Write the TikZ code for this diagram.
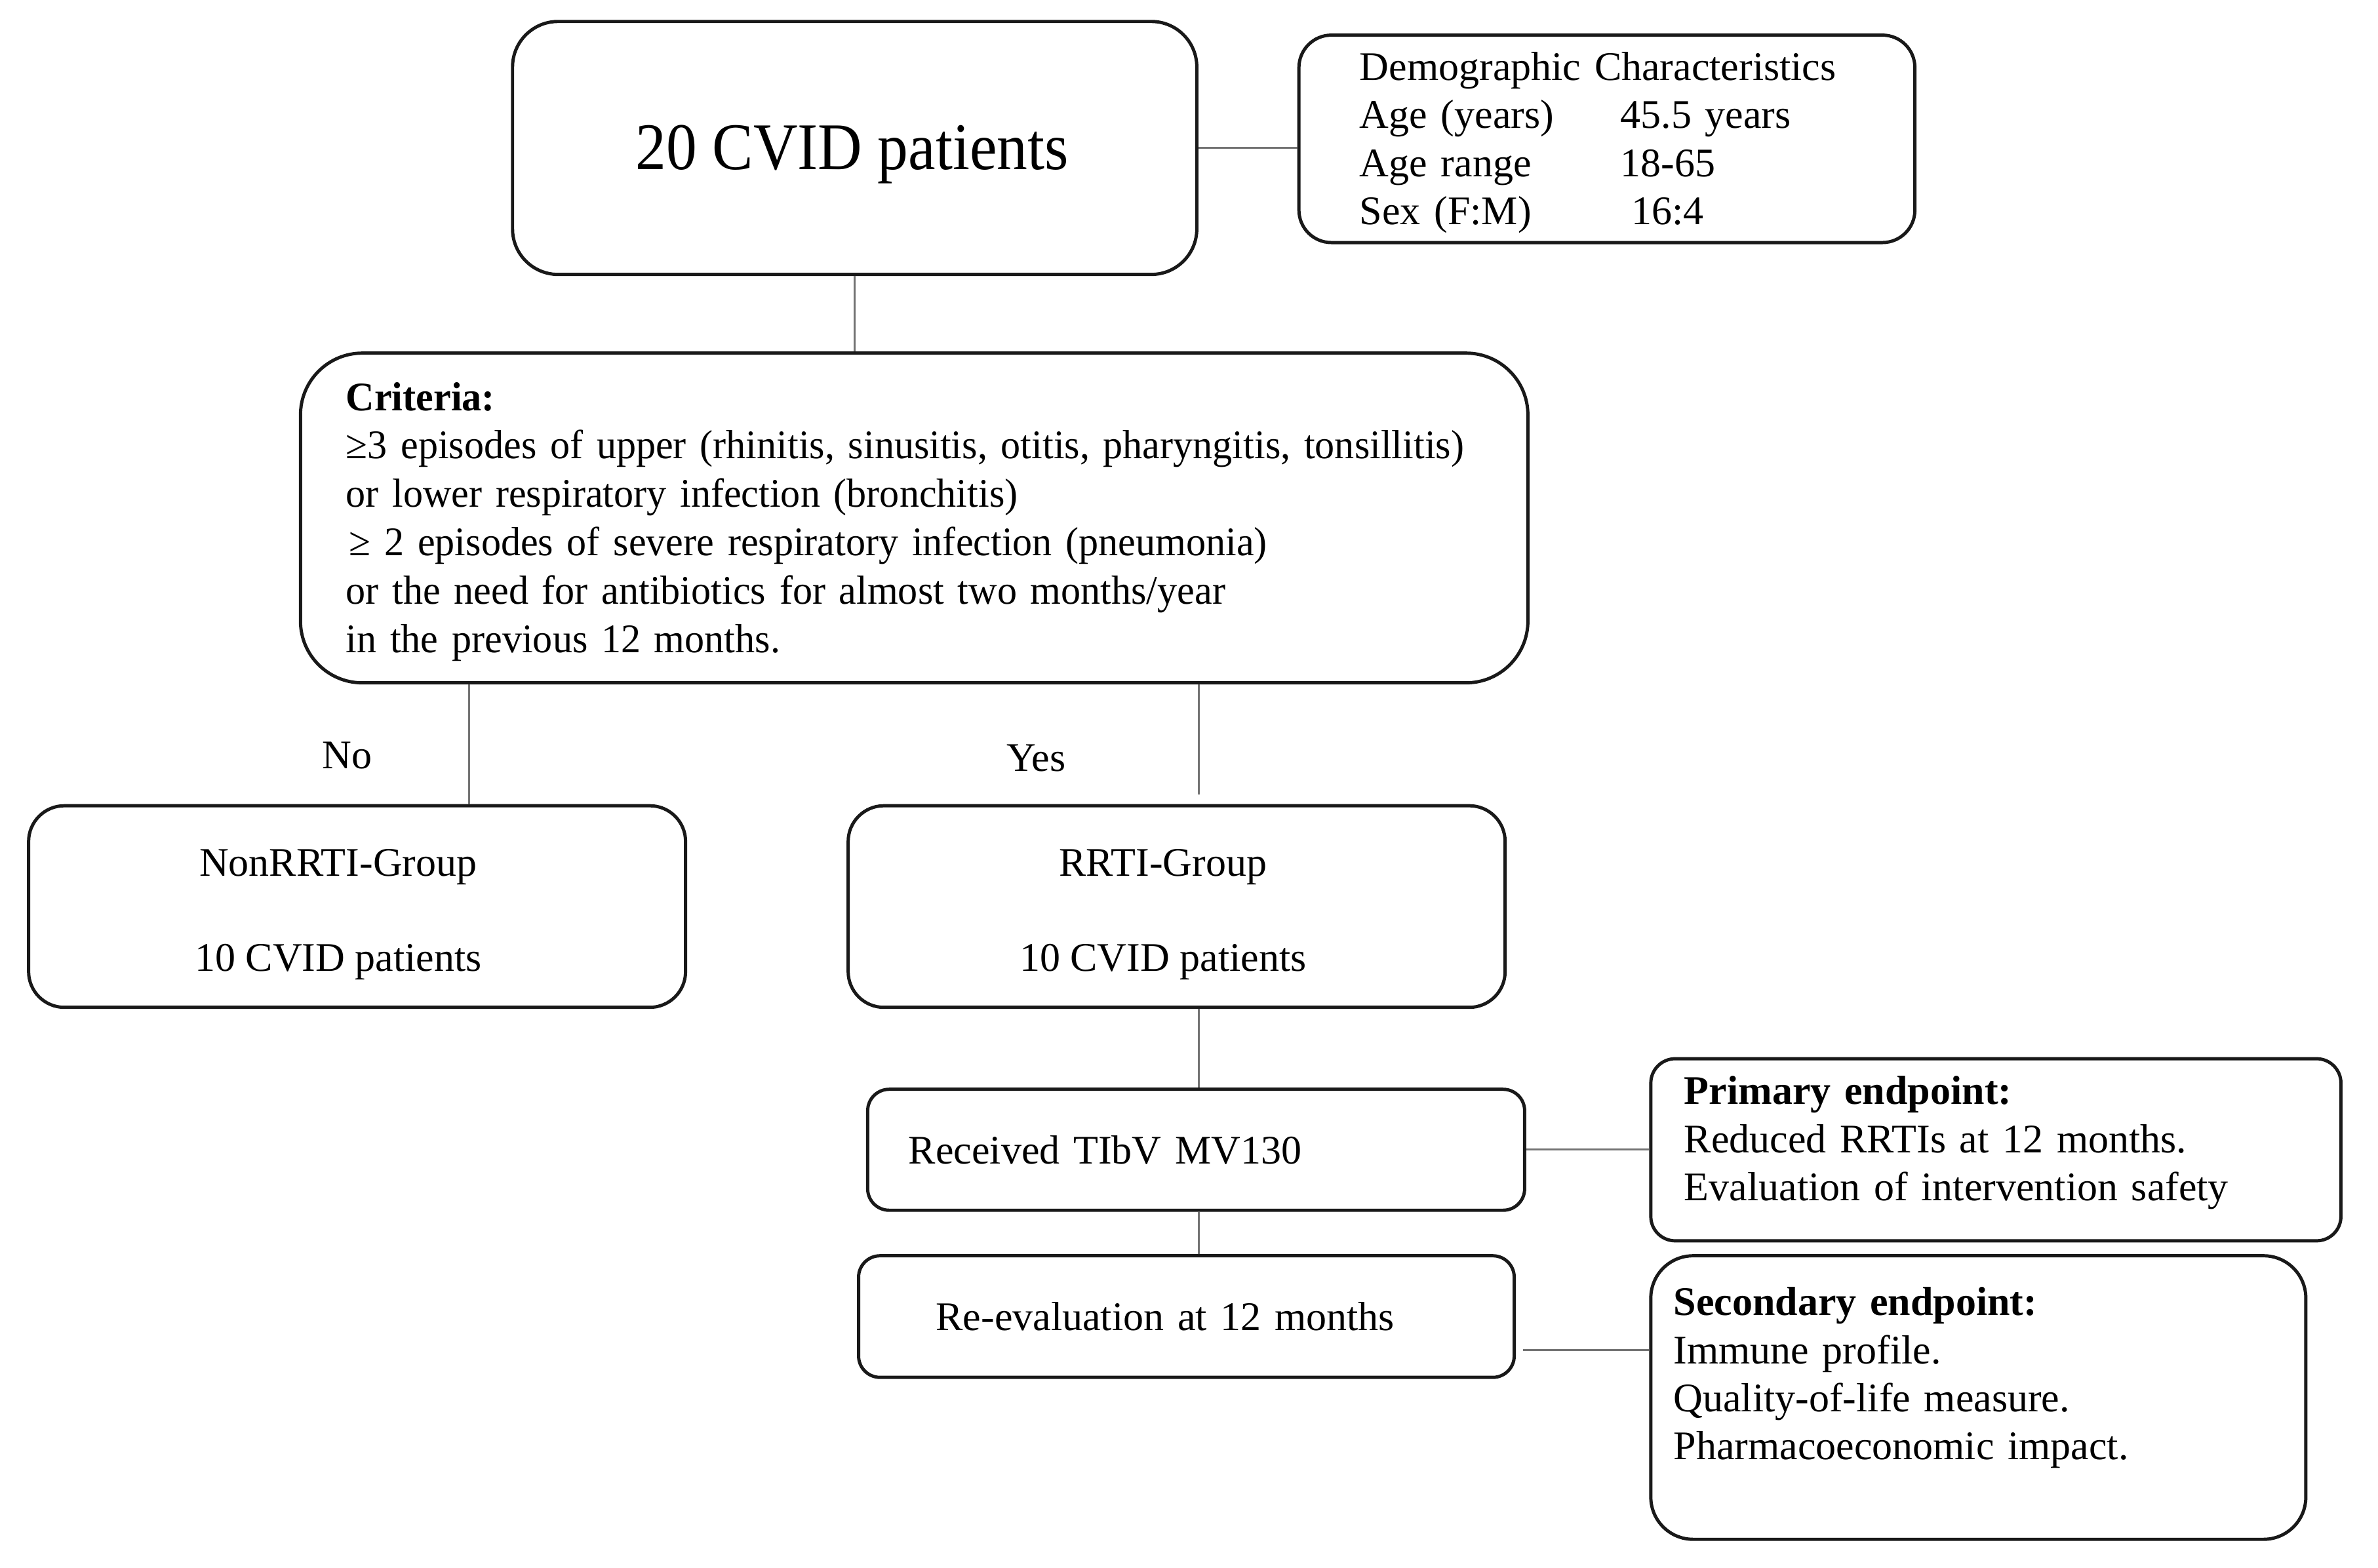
\documentclass[tikz,border=0pt]{standalone}
\usepackage{fontspec}
\setmainfont{Liberation Serif}
\newfontfamily\condfont{Liberation Serif}[FakeStretch=0.97]
\newfontfamily\titlefont{Liberation Serif}[FakeStretch=0.92]
\begin{document}
\begin{tikzpicture}[x=0.2pt,y=-0.2pt,
  box/.style={draw=black!90, line width=1pt, rounded corners=#1, inner sep=0pt},
  box/.default=10pt,
  conn/.style={draw=black!55, line width=0.6pt},
  body/.style={font=\fontsize{12.5pt}{14.8pt}\selectfont}]
\useasboundingbox[fill=white] (0,0) rectangle (3656,2411);
\tikzset{every node/.append style={body}}

\node[box=14pt, minimum width=210.4pt, minimum height=77.8pt,
      font=\titlefont\fontsize{20.5pt}{24pt}\selectfont] (A) at (1314,227.5)
  {\raisebox{0pt}[\dimexpr\height+3.8pt\relax][\depth]{20 CVID patients}\hspace{1.5pt}\null};

\node[box=10pt, minimum width=189.4pt, minimum height=63.8pt, inner xsep=18.6pt,
      text width=152pt, align=left] (D) at (2470.5,213.5)
  {\rule{0pt}{11pt}Demographic Characteristics\\
   \makebox[80.2pt][l]{Age (years)}45.5 years\\
   \makebox[80.2pt][l]{Age range}18-65\\
   \makebox[80.2pt][l]{Sex (F:M)}\hspace{3.3pt}16:4};

\node[box=19pt, minimum width=377.4pt, minimum height=101.4pt, inner xsep=14pt,
      text width=349.4pt, align=left, font=\condfont\fontsize{12.5pt}{14.9pt}\selectfont] (C) at (1405.5,796.5)
  {\rule{0pt}{11pt}\textbf{Criteria:}\\
   ≥3 episodes of upper (rhinitis, sinusitis, otitis, pharyngitis, tonsillitis)\\
   or lower respiratory infection (bronchitis)\\
   \hspace{1pt}≥ 2 episodes of severe respiratory infection (pneumonia)\\
   or the need for antibiotics for almost two months/year\\
   in the previous 12 months.};

\node[box=11pt, minimum width=202pt, minimum height=62pt] (N) at (549,1394)
  {\raisebox{0pt}[\dimexpr\height+4.6pt\relax][\depth]{\begin{tabular}{@{}c@{}}NonRRTI-Group\\[14.6pt]10 CVID patients\end{tabular}}\hspace{11.6pt}\null};

\node[box=11pt, minimum width=202pt, minimum height=62pt] (R) at (1809,1394)
  {\raisebox{0pt}[\dimexpr\height+4.6pt\relax][\depth]{\begin{tabular}{@{}c@{}}RRTI-Group\\[14.6pt]10 CVID patients\end{tabular}}\hspace{8.4pt}\null};

\node[box=6.6pt, minimum width=202pt, minimum height=37.2pt, inner xsep=12.6pt,
      text width=176.8pt, align=left] (T) at (1839,1768) {Received TIbV MV130};

\node[box=6.6pt, minimum width=201.6pt, minimum height=37.4pt, inner xsep=23.8pt,
      text width=154pt, align=left] (E) at (1824,2024.5) {Re-evaluation at 12 months};

\node[box=7.5pt, minimum width=212.2pt, minimum height=56pt, inner xsep=10.3pt,
      text width=191.6pt, align=left] (P) at (3068.5,1768)
  {\textbf{Primary endpoint:}\\
   Reduced RRTIs at 12 months.\\
   Evaluation of intervention safety\\[-7.8pt]\mbox{}};

\node[box=13pt, minimum width=201.4pt, minimum height=87.2pt, inner xsep=7pt,
      text width=187.4pt, align=left] (S) at (3041.5,2149)
  {\textbf{Secondary endpoint:}\\
   Immune profile.\\
   Quality-of-life measure.\\
   Pharmacoeconomic impact.\\ \mbox{}};

\node (no) at (534,1162) {No};
\node (yes) at (1593,1166) {Yes};

\coordinate (nx) at (721,0);
\coordinate (yx) at (1843,0);
\coordinate (yend) at (1843,1222);
\coordinate (es) at (2342,2076);

\draw[conn] (A.east) -- (A.east -| D.west);
\draw[conn] (A.south) -- (A.south |- C.north);
\draw[conn] (C.south -| nx) -- (N.north -| nx);
\draw[conn] (C.south -| yx) -- (yend);
\draw[conn] (R.south -| yx) -- (T.north -| yx);
\draw[conn] (T.south -| yx) -- (E.north -| yx);
\draw[conn] (T.east) -- (T.east -| P.west);
\draw[conn] (es) -- (es -| S.west);
\end{tikzpicture}
\end{document}
